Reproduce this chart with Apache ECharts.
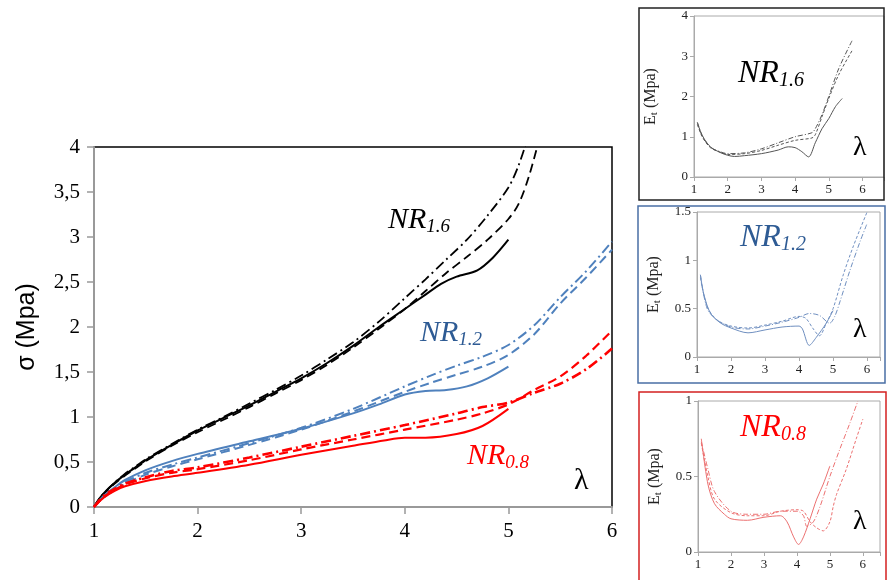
<!DOCTYPE html>
<html><head><meta charset="utf-8">
<script src="https://cdn.jsdelivr.net/npm/echarts@6/dist/echarts.min.js"></script>
<style>html,body{margin:0;padding:0;background:#fff}#c{width:887px;height:580px}</style>
</head><body><div id="c"></div>
<script>
// ---- Main chart data (lambda, sigma MPa) ----
const nr16Solid = [[1,0],[1.05,0.09],[1.1,0.16],[1.2,0.27],[1.3,0.36],[1.4,0.44],[1.5,0.52],[1.75,0.69],[2,0.85],[2.25,0.99],[2.5,1.13],[2.75,1.28],[3,1.43],[3.25,1.6],[3.5,1.79],[3.75,2.0],[4,2.2],[4.2,2.36],[4.35,2.48],[4.5,2.56],[4.7,2.63],[4.85,2.77],[5,2.97]];
const nr16Dash = [[1,0],[1.05,0.08],[1.1,0.15],[1.2,0.26],[1.3,0.35],[1.4,0.43],[1.5,0.51],[1.75,0.68],[2,0.83],[2.25,0.97],[2.5,1.11],[2.75,1.26],[3,1.41],[3.25,1.58],[3.5,1.77],[3.75,1.98],[4,2.2],[4.2,2.4],[4.4,2.6],[4.6,2.78],[4.8,2.97],[5,3.2],[5.1,3.37],[5.2,3.68],[5.3,4.1]];
const nr16DashDot = [[1,0],[1.05,0.09],[1.1,0.16],[1.2,0.27],[1.3,0.37],[1.4,0.45],[1.5,0.53],[1.75,0.7],[2,0.86],[2.25,1.0],[2.5,1.15],[2.75,1.3],[3,1.46],[3.25,1.64],[3.5,1.83],[3.75,2.06],[4,2.32],[4.2,2.53],[4.4,2.75],[4.6,2.97],[4.8,3.24],[5,3.55],[5.1,3.8],[5.2,4.15]];
const nr12Solid = [[1,0],[1.05,0.07],[1.1,0.13],[1.2,0.22],[1.3,0.3],[1.5,0.41],[1.75,0.51],[2,0.59],[2.5,0.73],[3,0.87],[3.5,1.04],[3.75,1.14],[4,1.25],[4.2,1.29],[4.4,1.3],[4.6,1.34],[4.8,1.43],[5,1.56]];
const nr12Dash = [[1,0],[1.05,0.06],[1.1,0.11],[1.2,0.19],[1.3,0.26],[1.5,0.36],[1.75,0.45],[2,0.53],[2.5,0.69],[3,0.86],[3.5,1.06],[4,1.28],[4.25,1.38],[4.5,1.47],[4.75,1.56],[5,1.69],[5.25,1.92],[5.5,2.26],[5.75,2.55],[6,2.86]];
const nr12DashDot = [[1,0],[1.05,0.07],[1.1,0.12],[1.2,0.21],[1.3,0.28],[1.5,0.38],[1.75,0.47],[2,0.55],[2.5,0.71],[3,0.88],[3.5,1.09],[4,1.34],[4.25,1.46],[4.5,1.57],[4.75,1.67],[5,1.8],[5.25,2.02],[5.5,2.33],[5.75,2.62],[6,2.95]];
const nr08Solid = [[1,0],[1.05,0.06],[1.1,0.11],[1.2,0.18],[1.3,0.23],[1.5,0.29],[1.75,0.34],[2,0.38],[2.5,0.47],[3,0.58],[3.5,0.68],[3.8,0.74],[4,0.77],[4.2,0.77],[4.5,0.81],[4.75,0.9],[5,1.09]];
const nr08Dash = [[1,0],[1.05,0.06],[1.1,0.12],[1.2,0.19],[1.3,0.25],[1.5,0.32],[1.75,0.38],[2,0.42],[2.5,0.52],[3,0.64],[3.5,0.75],[4,0.86],[4.5,0.97],[4.75,1.04],[5,1.14],[5.25,1.3],[5.5,1.45],[5.75,1.68],[6,1.96]];
const nr08DashDot = [[1,0],[1.05,0.07],[1.1,0.13],[1.2,0.2],[1.3,0.26],[1.5,0.33],[1.75,0.4],[2,0.44],[2.5,0.55],[3,0.67],[3.5,0.79],[4,0.91],[4.5,1.04],[4.75,1.11],[5,1.16],[5.25,1.27],[5.5,1.37],[5.75,1.53],[6,1.76]];

// ---- Inset data (lambda, Et MPa) ----
const et16Solid = [[1.1,1.35],[1.2,1.12],[1.3,0.95],[1.5,0.74],[1.8,0.6],[2,0.54],[2.2,0.51],[2.5,0.53],[3,0.58],[3.5,0.67],[3.8,0.75],[4,0.73],[4.2,0.63],[4.4,0.5],[4.6,0.85],[4.8,1.2],[5,1.45],[5.2,1.75],[5.4,1.95]];
const et16Dash = [[1.1,1.3],[1.2,1.08],[1.3,0.92],[1.5,0.72],[1.8,0.61],[2,0.56],[2.5,0.58],[3,0.66],[3.5,0.79],[4,0.91],[4.5,0.97],[4.6,1.05],[4.8,1.5],[5,1.95],[5.3,2.55],[5.7,3.15]];
const et16DashDot = [[1.1,1.36],[1.2,1.1],[1.3,0.94],[1.5,0.73],[1.8,0.62],[2,0.58],[2.5,0.6],[3,0.7],[3.5,0.85],[4,1.0],[4.5,1.1],[4.6,1.2],[4.8,1.55],[5,2.0],[5.3,2.7],[5.7,3.4]];
const et12Solid = [[1.1,0.85],[1.2,0.65],[1.4,0.45],[1.7,0.35],[2,0.3],[2.5,0.25],[3,0.28],[3.5,0.31],[4,0.32],[4.1,0.29],[4.3,0.12],[4.5,0.2],[4.8,0.35],[5,0.48]];
const et12Dash = [[1.1,0.82],[1.3,0.52],[1.6,0.38],[2,0.32],[2.5,0.3],[3,0.33],[3.5,0.37],[4,0.42],[4.2,0.4],[4.4,0.3],[4.6,0.22],[4.8,0.35],[5,0.5],[5.3,0.85],[5.6,1.15],[6,1.5]];
const et12DashDot = [[1.1,0.85],[1.3,0.5],[1.6,0.38],[2,0.31],[2.5,0.29],[3,0.32],[3.5,0.36],[4,0.41],[4.3,0.45],[4.6,0.43],[4.9,0.35],[5.05,0.42],[5.2,0.57],[5.5,0.9],[5.8,1.2],[6,1.38]];
const et08Solid = [[1.1,0.75],[1.3,0.45],[1.5,0.32],[1.8,0.25],[2,0.22],[2.5,0.21],[3,0.23],[3.5,0.24],[3.7,0.2],[3.9,0.1],[4.05,0.05],[4.2,0.1],[4.4,0.22],[4.6,0.35],[4.8,0.45],[5,0.57]];
const et08Dash = [[1.1,0.72],[1.3,0.5],[1.5,0.35],[2,0.26],[2.5,0.24],[3,0.24],[3.5,0.27],[4,0.28],[4.2,0.27],[4.4,0.2],[4.6,0.16],[4.8,0.14],[5,0.2],[5.1,0.3],[5.2,0.38],[5.5,0.55],[5.8,0.75],[6,0.88]];
const et08DashDot = [[1.1,0.73],[1.3,0.55],[1.5,0.4],[2,0.27],[2.5,0.25],[3,0.25],[3.5,0.27],[4,0.27],[4.2,0.24],[4.3,0.17],[4.5,0.2],[4.7,0.3],[5,0.5],[5.3,0.68],[5.6,0.85],[5.85,1.0]];

const chart = echarts.init(document.getElementById('c'), null, {renderer:'canvas'});
const SERIF = '"Liberation Serif","DejaVu Serif",serif';
const SANS = '"Liberation Sans",Arial,sans-serif';
const DASH = [9,5], DASHDOT = [10,4,2,4];
const IDASH = [3,2], IDASHDOT = [5,2,1,2];

function line(data, color, type, width, idx) {
  return {type:'line', data, xAxisIndex:idx, yAxisIndex:idx, showSymbol:false, symbol:'none',
    smooth:0.3, clip:true, silent:true, lineStyle:{color, width, type}};
}
function insetAxes(idx, xmax, ymax, yint) {
  return {
    x: {type:'value', gridIndex:idx, min:1, max:xmax, interval:1,
      axisLine:{lineStyle:{color:'#aaa',width:1}}, axisTick:{show:true,length:4,lineStyle:{color:'#aaa'}},
      axisLabel:{fontFamily:SERIF,fontSize:13,color:'#222',margin:6,
        formatter:v=> (Math.abs(v-Math.round(v))<1e-6 ? String(Math.round(v)) : '')},
      splitLine:{show:false}},
    y: {type:'value', gridIndex:idx, min:0, max:ymax, interval:yint,
      axisLine:{show:true,lineStyle:{color:'#aaa',width:1}}, axisTick:{show:true,length:4,lineStyle:{color:'#aaa'}},
      axisLabel:{fontFamily:SERIF,fontSize:13,color:'#222',margin:6},
      splitLine:{show:false},
      name:'{a|E}{b|t}{a| (Mpa)}', nameLocation:'middle', nameGap:34, nameRotate:90,
      nameTextStyle:{rich:{a:{fontFamily:SERIF,fontSize:16,color:'#222'},b:{fontFamily:SERIF,fontSize:11,color:'#222',padding:[8,0,0,0]}}}}
  };
}
const a1 = insetAxes(1, 6.64, 4, 1), a2 = insetAxes(2, 6.38, 1.5, 0.5), a3 = insetAxes(3, 6.52, 1, 0.5);

function nrLabel(x, y, sub, color, size) {
  return {type:'text', left:x, top:y, z:50, silent:true,
    style:{text:'{n|NR}{s|' + sub + '}', rich:{
      n:{fontFamily:SERIF,fontStyle:'italic',fontSize:size,fill:color,color:color},
      s:{fontFamily:SERIF,fontStyle:'italic',fontSize:Math.round(size*0.62),fill:color,color:color,padding:[Math.round(size*0.45),0,0,0]}}}};
}
function lam(x, y, size) {
  return {type:'text', left:x, top:y, z:50, silent:true,
    style:{text:'λ', fontFamily:SERIF, fontSize:size, fill:'#000'}};
}

const option = {
  backgroundColor:'#fff',
  animation:false,
  grid:[
    {left:94, top:147, width:518, height:360, show:true, borderColor:'#000', borderWidth:1.5, backgroundColor:'transparent'},
    {left:694, top:16, width:193, height:161, show:true, borderColor:'#aaa', borderWidth:1},
    {left:697, top:212, width:183, height:145, show:true, borderColor:'#aaa', borderWidth:1},
    {left:698, top:401, width:182, height:151, show:true, borderColor:'#aaa', borderWidth:1}
  ],
  xAxis:[
    {type:'value', gridIndex:0, min:1, max:6, interval:1,
      axisLine:{lineStyle:{color:'#999',width:2}}, axisTick:{show:true,length:7,lineStyle:{color:'#999',width:1.5}},
      axisLabel:{fontFamily:SERIF,fontSize:21,color:'#000',margin:14}, splitLine:{show:false}},
    a1.x, a2.x, a3.x
  ],
  yAxis:[
    {type:'value', gridIndex:0, min:0, max:4, interval:0.5,
      axisLine:{show:true,lineStyle:{color:'#999',width:2}}, axisTick:{show:true,length:7,lineStyle:{color:'#999',width:1.5}},
      axisLabel:{fontFamily:SERIF,fontSize:21,color:'#000',margin:14, formatter:v=>String(v).replace('.',',')},
      splitLine:{show:false},
      name:'σ (Mpa)', nameLocation:'middle', nameGap:54, nameRotate:90,
      nameTextStyle:{fontFamily:SANS,fontSize:25,color:'#000'}},
    a1.y, a2.y, a3.y
  ],
  series:[
    line(nr16Solid,'#000','solid',2,0),
    line(nr16Dash,'#000',DASH,1.8,0),
    line(nr16DashDot,'#000',DASHDOT,1.8,0),
    line(nr12Solid,'#4f81bd','solid',2,0),
    line(nr12Dash,'#4f81bd',DASH,2,0),
    line(nr12DashDot,'#4f81bd',DASHDOT,2,0),
    line(nr08Solid,'#ff0000','solid',2,0),
    line(nr08Dash,'#ff0000',DASH,2.2,0),
    line(nr08DashDot,'#ff0000',DASHDOT,2.6,0),
    line(et16Solid,'#555','solid',1,1),
    line(et16Dash,'#555',IDASH,1,1),
    line(et16DashDot,'#555',IDASHDOT,1,1),
    line(et12Solid,'#6f8fc0','solid',1,2),
    line(et12Dash,'#6f8fc0',IDASH,1,2),
    line(et12DashDot,'#6f8fc0',IDASHDOT,1,2),
    line(et08Solid,'#ec7070','solid',1,3),
    line(et08Dash,'#ec7070',IDASH,1,3),
    line(et08DashDot,'#ec7070',IDASHDOT,1,3)
  ],
  graphic:[
    {type:'rect', shape:{x:639,y:8,width:245,height:192}, style:{fill:'none',stroke:'#222',lineWidth:1.5}, z:1, silent:true},
    {type:'rect', shape:{x:638,y:206,width:247,height:177}, style:{fill:'none',stroke:'#4a6fa5',lineWidth:1.5}, z:1, silent:true},
    {type:'rect', shape:{x:639,y:392,width:247,height:200}, style:{fill:'none',stroke:'#d42020',lineWidth:1.5}, z:1, silent:true},
    nrLabel(388,205,'1.6','#000',30),
    nrLabel(420,318,'1.2','#2e5b94',30),
    nrLabel(467,441,'0.8','#ff0000',30),
    lam(574,466,30),
    nrLabel(738,58,'1.6','#000',32),
    nrLabel(740,222,'1.2','#2e5b94',32),
    nrLabel(740,412,'0.8','#ff0000',32),
    lam(853,134,28),
    lam(853,316,28),
    lam(853,508,28)
  ]
};
chart.setOption(option);
</script></body></html>
